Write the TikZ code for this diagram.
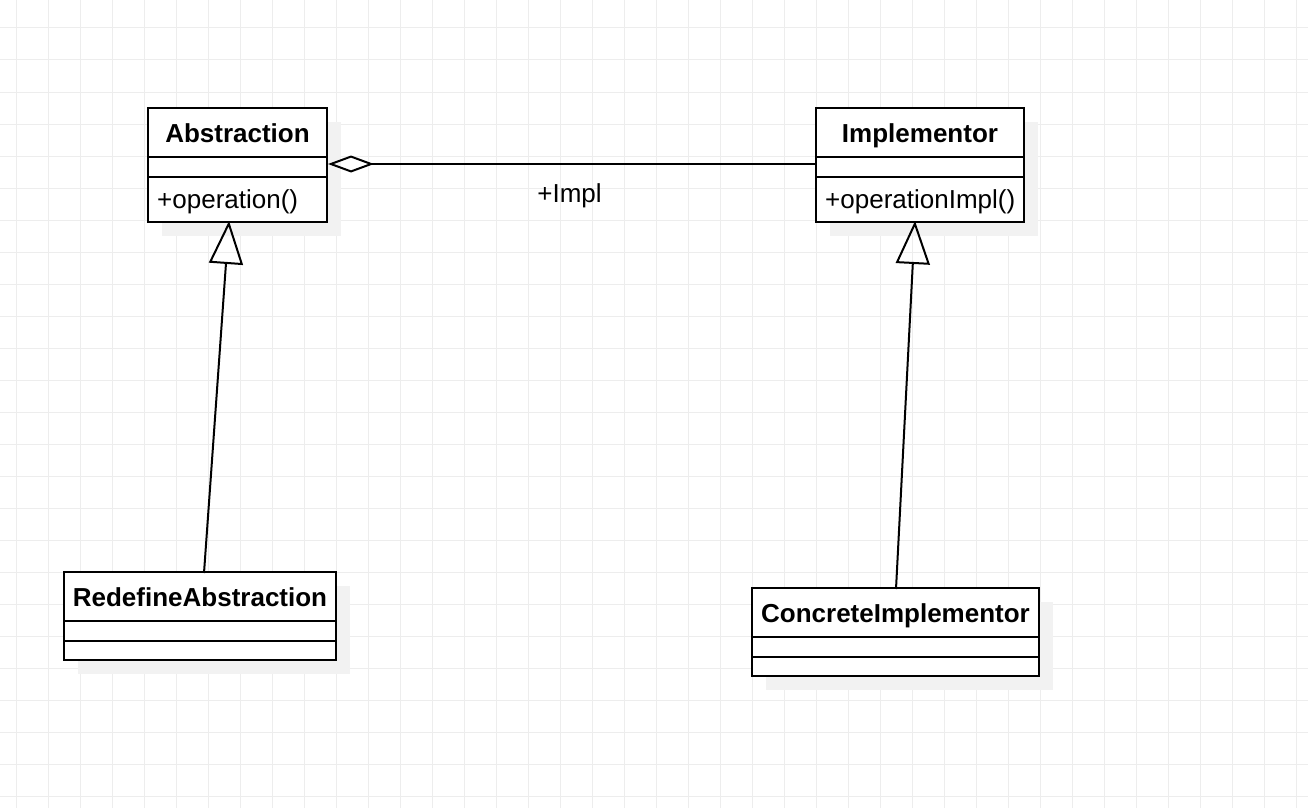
\documentclass[tikz,border=0pt]{standalone}
\usepackage{fontspec}
\setmainfont{Liberation Sans}
\usetikzlibrary{arrows.meta,calc,shadows}
\tikzstyle{classbox} = [draw, line width=2pt, fill=white, inner sep=0pt,
  drop shadow={shadow xshift=14pt, shadow yshift=-14pt, fill=black!5, opacity=1}]
\tikzstyle{title} = [font=\fontsize{26}{30}\selectfont\bfseries, anchor=base, inner sep=0pt]
\tikzstyle{member} = [font=\fontsize{26}{30}\selectfont, anchor=base west, inner sep=0pt]
\tikzstyle{sep} = [line width=2pt]
\tikzstyle{gridline} = [draw=black!7, line width=1pt]
\tikzstyle{inherit} = [line width=2pt, -{Triangle[open,length=43pt,width=34pt]}]
\tikzstyle{aggr} = [line width=2pt, {Diamond[open,length=46pt,width=17pt]}-]

\begin{document}
\begin{tikzpicture}[x=1pt,y=-1pt]
\useasboundingbox (0,0) rectangle (1308,808);
% grid
\foreach \x in {16,48,...,1308} \draw[gridline] (\x,0) -- (\x,808);
\foreach \y in {28,60,...,808} \draw[gridline] (0,\y) -- (1308,\y);
% classes
\node[classbox, minimum width=179pt, minimum height=114pt] (abs) at (237.5,165) {};
\node[classbox, minimum width=208pt, minimum height=114pt] (imp) at (920,165) {};
\node[classbox, minimum width=272pt, minimum height=88pt] (redef) at (200,616) {};
\node[classbox, minimum width=287pt, minimum height=88pt] (conc) at (895.5,632) {};
\foreach \c in {abs,imp,redef,conc} {
  \draw[sep] ($(\c.north west)+(0,50)$) -- ($(\c.north east)+(0,50)$);
  \draw[sep] ($(\c.north west)+(0,70)$) -- ($(\c.north east)+(0,70)$);
}
\node[title] at ($(abs.north)+(0,35.5)$) {Abstraction};
\node[title] at ($(imp.north)+(0,35.5)$) {Implementor};
\node[title] at ($(redef.north)+(0,35.5)$) {RedefineAbstraction};
\node[title] at ($(conc.north)+(0,35.5)$) {ConcreteImplementor};
\node[member] at ($(abs.north west)+(10,101.5)$) {+operation()};
\node[member] at ($(imp.north west)+(10,101.5)$) {+operationImpl()};
% relations
\draw[aggr] ([yshift=1pt]abs.east) -- ([yshift=1pt]imp.west)
  node[pos=0.5, below=15pt, xshift=-2pt, font=\fontsize{26}{30}\selectfont] (impl) {+Impl};
\draw[inherit] ([xshift=4pt,yshift=-2pt]redef.north) -- ([xshift=-8.5pt,yshift=2pt]abs.south);
\draw[inherit] ([xshift=0.5pt,yshift=-2pt]conc.north) -- ([xshift=-5pt,yshift=2pt]imp.south);
\end{tikzpicture}
\end{document}
